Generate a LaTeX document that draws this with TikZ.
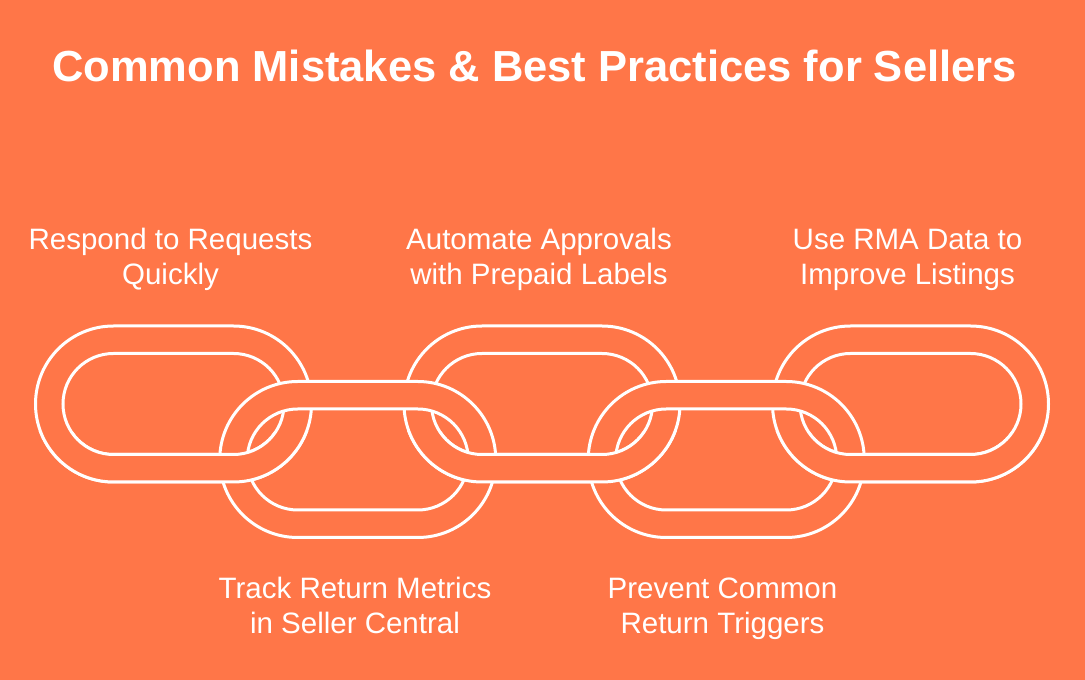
\documentclass[tikz,border=0pt]{standalone}
\usepackage{fontspec}
\setmainfont{Liberation Sans}
\definecolor{bg}{RGB}{255,118,72}
\tikzset{
  ringstyle/.style={fill=bg, even odd rule, draw=white, line width=3pt},
  label/.style={text=white, align=center, anchor=base, inner sep=0pt,
    font=\fontsize{29.5}{35.5}\selectfont},
  titlestyle/.style={text=white, anchor=base, inner sep=0pt,
    font=\fontsize{43.5}{50}\selectfont\bfseries}
}
\newcommand\ringpath[2]{%
  \path[ringstyle]
    (#1-60,#2+78) -- (#1+60,#2+78) arc[start angle=90, end angle=-90, radius=78pt]
    -- (#1-60,#2-78) arc[start angle=270, end angle=90, radius=78pt] -- cycle
    (#1-60,#2+50.5) -- (#1+60,#2+50.5) arc[start angle=90, end angle=-90, radius=50.5pt]
    -- (#1-60,#2-50.5) arc[start angle=270, end angle=90, radius=50.5pt] -- cycle;}
\begin{document}
\begin{tikzpicture}[x=1pt,y=1pt]
\useasboundingbox (0,0) rectangle (1085,680);
\fill[bg] (0,0) rectangle (1085,680);
% upper links
\ringpath{173.5}{276}
\ringpath{542}{276}
\ringpath{910.5}{276}
% lower links
\ringpath{357.75}{220.5}
\ringpath{726.25}{220.5}
% upper links on top at their lower crossings
\begin{scope}
  \clip (0,0) rectangle (1085,248);
  \ringpath{173.5}{276}
  \ringpath{542}{276}
  \ringpath{910.5}{276}
\end{scope}
% texts
\node[titlestyle] (title) at (534.5,598) {Common Mistakes \& Best Practices for Sellers};
\node[label] (t1) at (170.5,395) {Respond to Requests\\Quickly};
\node[label] (t3) at (539,395) {Automate Approvals\\with Prepaid Labels};
\node[label] (t5) at (907.5,395) {Use RMA Data to\\Improve Listings};
\node[label] (t2) at (355,46) {Track Return Metrics\\in Seller Central};
\node[label] (t4) at (722.5,46) {Prevent Common\\Return Triggers};
\end{tikzpicture}
\end{document}
